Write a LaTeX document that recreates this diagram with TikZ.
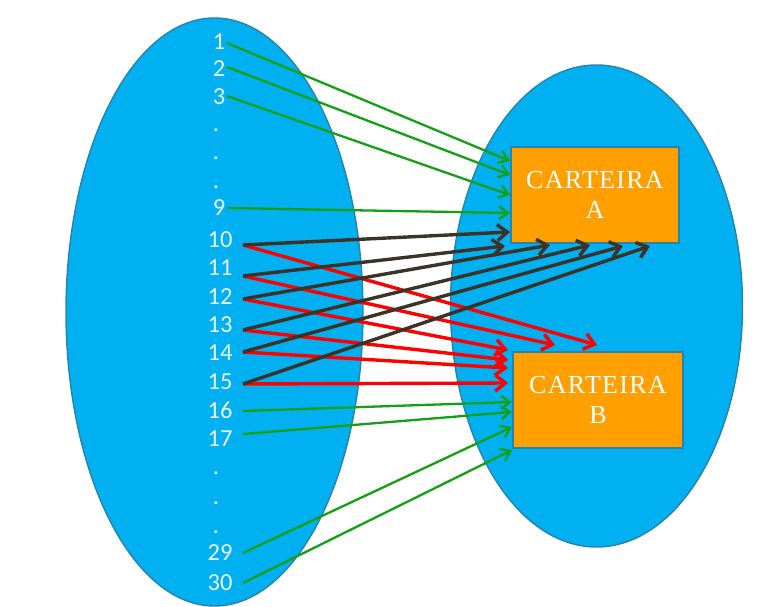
\documentclass[tikz,border=0pt]{standalone}
\usepackage{fontspec}
\setmainfont{Liberation Serif}
\newfontfamily\numfont{Carlito}
\newfontfamily\walletfont[LetterSpace=5]{Liberation Serif}
\usetikzlibrary{arrows.meta,shapes.geometric}

\definecolor{setblue}{RGB}{0,176,240}
\definecolor{setedge}{RGB}{38,132,172}
\definecolor{walletfill}{RGB}{255,160,0}
\definecolor{labelwhite}{RGB}{235,245,255}
\definecolor{linkgreen}{RGB}{20,160,20}
\definecolor{linkdark}{RGB}{59,50,40}
\definecolor{linkred}{RGB}{255,0,0}

\begin{document}
\begin{tikzpicture}[x=1pt,y=-1pt,
  setshape/.style={ellipse, draw=setedge, line width=1.4pt, fill=setblue, inner sep=0pt},
  wallet/.style={rectangle, draw=setedge, line width=1.8pt, fill=walletfill, inner sep=0pt,
    text=white, align=center, font=\walletfont\fontsize{26}{30}\selectfont},
  lab/.style={anchor=base, inner sep=0pt, text=labelwhite, font=\numfont\fontsize{24.5}{24}\selectfont},
  greenlink/.style={draw=linkgreen, line width=2.3pt, -{Straight Barb[length=9pt,width=13pt]}},
  darklink/.style={draw=linkdark, line width=3.4pt, -{Straight Barb[length=10pt,width=16pt]}},
  redlink/.style={draw=linkred, line width=3.4pt, -{Straight Barb[length=10pt,width=16pt]}}]

\useasboundingbox (0,0) rectangle (782,607);

% the two sets
\node[setshape, minimum width=297, minimum height=588] (L) at (214.5,312) {};
\node[setshape, minimum width=292, minimum height=482] (R) at (596.5,306) {};

% the two wallets
\node[wallet, minimum width=168, minimum height=96] (A) at (595,195) {CARTEIRA\\A};
\node[wallet, minimum width=170, minimum height=96] (B) at (598,400) {CARTEIRA\\B};

% element labels
\node[lab] (n1)  at (219,49.5)  {1};
\node[lab] (n2)  at (219,76.5)  {2};
\node[lab] (n3)  at (219,104.5) {3};
\node[lab] (d1)  at (216,131.5) {.};
\node[lab] (d2)  at (216,159.5) {.};
\node[lab] (d3)  at (216,188.5) {.};
\node[lab] (n9)  at (219,215.5) {9};
\node[lab] (n10) at (220,247)   {10};
\node[lab] (n11) at (220,275.5) {11};
\node[lab] (n12) at (220,304.5) {12};
\node[lab] (n13) at (220,332.5) {13};
\node[lab] (n14) at (220,360.5) {14};
\node[lab] (n15) at (220,389.5) {15};
\node[lab] (n16) at (220,418.5) {16};
\node[lab] (n17) at (220,446.5) {17};
\node[lab] (d4)  at (216,474.5) {.};
\node[lab] (d5)  at (216,504.5) {.};
\node[lab] (d6)  at (216,533.5) {.};
\node[lab] (n29) at (220,560.5) {29};
\node[lab] (n30) at (220,590.5) {30};

% where the links leave the labels
\coordinate (o1)  at (227,43);
\coordinate (o2)  at (227,67);
\coordinate (o3)  at (227,96);
\coordinate (o9)  at (227,208);
\coordinate (o10) at (243,245);
\coordinate (o11) at (243,276);
\coordinate (o12) at (243,299);
\coordinate (o13) at (243,330);
\coordinate (o14) at (243,352);
\coordinate (o15) at (243,384);
\coordinate (o16) at (243,411);
\coordinate (o17) at (243,434);
\coordinate (o29) at (243,553);
\coordinate (o30) at (243,583);

% where the links arrive
\coordinate (a1) at (510,161);
\coordinate (a2) at (510,175);
\coordinate (a3) at (510,195);
\coordinate (a9) at (510,213);
\coordinate (k10) at (510,232);
\coordinate (k11) at (505,246);
\coordinate (k12) at (550,245);
\coordinate (k13) at (590,245);
\coordinate (k14) at (623,246);
\coordinate (k15) at (650,246);
\coordinate (r10) at (597,345);
\coordinate (r11) at (555,345);
\coordinate (r12) at (508,350);
\coordinate (r13) at (508,360);
\coordinate (r14) at (508,368);
\coordinate (r15) at (508,383);
\coordinate (b16) at (512,402);
\coordinate (b17) at (512,412);
\coordinate (b29) at (512,427);
\coordinate (b30) at (512,450);

% green links
\draw[greenlink] (o1) -- (a1);
\draw[greenlink] (o2) -- (a2);
\draw[greenlink] (o3) -- (a3);
\draw[greenlink] (o9) -- (a9);
\draw[greenlink] (o16) -- (b16);
\draw[greenlink] (o17) -- (b17);
\draw[greenlink] (o29) -- (b29);
\draw[greenlink] (o30) -- (b30);

% red links
\draw[redlink] (o10) -- (r10);
\draw[redlink] (o11) -- (r11);
\draw[redlink] (o12) -- (r12);
\draw[redlink] (o13) -- (r13);
\draw[redlink] (o14) -- (r14);
\draw[redlink] (o15) -- (r15);

% dark links
\draw[darklink] (o10) -- (k10);
\draw[darklink] (o11) -- (k11);
\draw[darklink] (o12) -- (k12);
\draw[darklink] (o13) -- (k13);
\draw[darklink] (o14) -- (k14);
\draw[darklink] (o15) -- (k15);
\end{tikzpicture}
\end{document}
